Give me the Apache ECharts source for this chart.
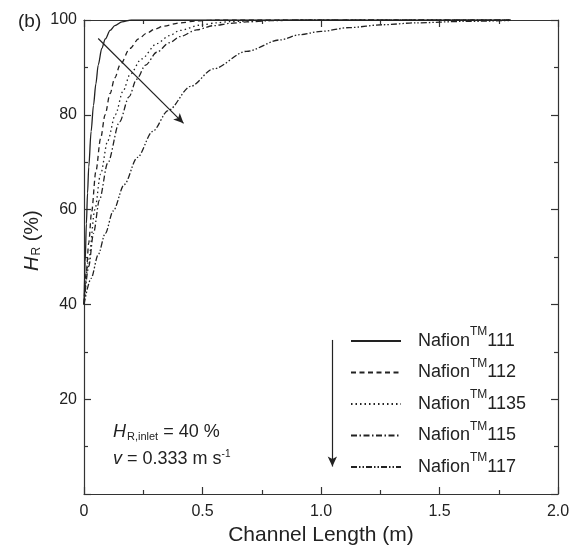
<!DOCTYPE html>
<html><head><meta charset="utf-8">
<script src="https://cdn.jsdelivr.net/npm/echarts@6/dist/echarts.min.js"></script>
<style>html,body{margin:0;padding:0;background:#fff}#c{width:575px;height:551px}</style>
</head><body><div id="c"></div>
<script>
// ---- data: [channel length (m), H_R (%)] ----
const seriesNames = ['111', '112', '1135', '115', '117'];
const nafion111 = [[0,40],[0.005,49],[0.01,57],[0.015,63.5],[0.02,69],[0.03,76.5],[0.04,82],[0.05,86.5],[0.06,90.5],[0.075,94],[0.09,96],[0.11,97.8],[0.13,98.8],[0.16,99.6],[0.2,100],[1.8,100]];
const nafion112 = [[0,40],[0.01,47],[0.02,53],[0.032,59.5],[0.05,68],[0.07,75],[0.089,80],[0.11,84.5],[0.13,87.8],[0.152,90.5],[0.194,94],[0.23,96],[0.264,97.2],[0.3,98.1],[0.335,98.7],[0.405,99.4],[0.475,99.8],[0.55,100],[1.8,100]];
const nafion1135 = [[0,40],[0.02,49.5],[0.046,60],[0.07,67.5],[0.1,74.5],[0.132,80],[0.165,85],[0.194,88.5],[0.243,91.8],[0.307,95],[0.36,96.7],[0.405,97.8],[0.489,98.9],[0.56,99.4],[0.616,99.65],[0.75,99.9],[0.9,100],[1.8,100]];
const nafion115 = [[0,40],[0.02,48],[0.04,55],[0.065,62],[0.1,69.8],[0.15,78.5],[0.19,83.8],[0.222,87.5],[0.26,90.5],[0.307,93.2],[0.36,95.2],[0.405,96.5],[0.475,97.9],[0.546,98.8],[0.62,99.3],[0.686,99.6],[0.787,99.85],[0.9,100],[1.8,100]];
const nafion117 = [[0,40],[0.03,45.5],[0.06,50.5],[0.09,55],[0.123,59.7],[0.17,65.3],[0.225,71],[0.29,76.5],[0.355,80.9],[0.45,86],[0.546,89.7],[0.686,93.4],[0.827,95.8],[0.91,96.9],[1.0,97.6],[1.12,98.4],[1.26,99.0],[1.4,99.4],[1.6,99.7],[1.8,99.9]];
const xTicks = [0, 0.5, 1.0, 1.5, 2.0];
const yTicks = [20, 40, 60, 80, 100];
// annotation arrows (data coordinates)
const trendArrow = [[0.06, 96.1], [0.42, 78.2]];
const legendArrow = [[1.048, 32.5], [1.048, 5.8]];

const allData = [nafion111, nafion112, nafion1135, nafion115, nafion117];
const dashes = ['solid', [5, 3.5], [1.5, 3], [6, 2.5, 1.5, 2.5], [6, 2, 1.5, 2, 1.5, 2]];
const ink = '#222';
const FONT = 'Liberation Sans, Arial, sans-serif';

const chart = echarts.init(document.getElementById('c'), null, {renderer: 'canvas'});

const series = allData.map((d, i) => ({
  name: seriesNames[i],
  type: 'line',
  data: d,
  xAxisIndex: 0, yAxisIndex: 0,
  symbol: 'none',
  smooth: 0.3,
  smoothMonotone: 'x',
  lineStyle: {color: ink, width: 1.3, type: dashes[i]},
  itemStyle: {color: ink},
  z: 3
}));
series[0].markLine = {
  silent: true,
  animation: false,
  symbol: ['none', 'arrow'],
  symbolSize: [7, 10],
  label: {show: false},
  lineStyle: {color: ink, width: 1.2, type: 'solid'},
  data: [
    [{coord: trendArrow[0]}, {coord: trendArrow[1]}],
    [{coord: legendArrow[0]}, {coord: legendArrow[1]}]
  ]
};

const axisCommon = {
  type: 'value',
  axisLine: {show: true, onZero: false, lineStyle: {color: '#333', width: 1.2}},
  axisTick: {show: true, inside: true, length: 7, lineStyle: {color: '#333', width: 1.2}},
  minorTick: {show: true, splitNumber: 2, length: 4, lineStyle: {color: '#333', width: 1.2}},
  splitLine: {show: false},
};

chart.setOption({
  animation: false,
  backgroundColor: '#fff',
  grid: {left: 84, top: 20, width: 474, height: 474},
  xAxis: [
    Object.assign({}, axisCommon, {
      position: 'bottom', min: 0, max: 2, interval: 0.5,
      axisLabel: {color: ink, fontSize: 16, fontFamily: FONT, margin: 10,
        formatter: v => (xTicks.indexOf(v) >= 0 ? (v === 0 ? '0' : v.toFixed(1)) : '')},
      name: 'Channel Length (m)', nameLocation: 'middle', nameGap: 30,
      nameTextStyle: {color: ink, fontSize: 21, fontFamily: FONT}
    }),
    Object.assign({}, axisCommon, {
      position: 'top', min: 0, max: 2, interval: 0.5,
      axisLabel: {show: false}
    })
  ],
  yAxis: [
    Object.assign({}, axisCommon, {
      position: 'left', min: 0, max: 100, interval: 20,
      axisLabel: {color: ink, fontSize: 16, fontFamily: FONT, margin: 7,
        formatter: v => (yTicks.indexOf(v) >= 0 ? String(v) : '')}
    }),
    Object.assign({}, axisCommon, {
      position: 'right', min: 0, max: 100, interval: 20,
      axisLabel: {show: false}
    })
  ],
  legend: {
    orient: 'vertical',
    left: 345, top: 321,
    itemWidth: 50, itemHeight: 12,
    itemGap: 7.5,
    selectedMode: false,
    itemStyle: {opacity: 0},
    data: seriesNames,
    formatter: n => '{f|Nafion}{s|TM}{a|' + n + '}',
    textStyle: {
      color: ink, fontFamily: FONT,
      rich: {
        f: {fontSize: 18, fontFamily: FONT, color: ink, lineHeight: 30, padding: [0, 0, 0, 12]},
        a: {fontSize: 18, fontFamily: FONT, color: ink, lineHeight: 30},
        s: {fontSize: 12, fontFamily: FONT, color: ink, verticalAlign: 'top', lineHeight: 13}
      }
    }
  },
  graphic: [
    {type: 'text', x: 18, y: 22, style: {text: '(b)', fontSize: 19, fontFamily: FONT, fill: ink, verticalAlign: 'middle'}},
    {type: 'text', x: 22, y: 271, rotation: Math.PI / 2,
      style: {text: '{i|H}{r|R}{n| (%)}', fill: ink, fontFamily: FONT,
        rich: {
          i: {fontSize: 20, fontStyle: 'italic', fontFamily: FONT, fill: ink},
          r: {fontSize: 12, fontFamily: FONT, fill: ink, padding: [9, 0, 0, 1]},
          n: {fontSize: 20, fontFamily: FONT, fill: ink}
        }}},
    {type: 'text', x: 113, y: 432,
      style: {text: '{i|H}{r|R,inlet}{n| = 40 %}', fill: ink, fontFamily: FONT, verticalAlign: 'middle',
        rich: {
          i: {fontSize: 18, fontStyle: 'italic', fontFamily: FONT, fill: ink},
          r: {fontSize: 11, fontFamily: FONT, fill: ink, padding: [10, 0, 0, 1]},
          n: {fontSize: 18, fontFamily: FONT, fill: ink}
        }}},
    {type: 'text', x: 113, y: 459,
      style: {text: '{i|v}{n| = 0.333 m s}{s|-1}', fill: ink, fontFamily: FONT, verticalAlign: 'middle',
        rich: {
          i: {fontSize: 18, fontStyle: 'italic', fontFamily: FONT, fill: ink},
          n: {fontSize: 18, fontFamily: FONT, fill: ink},
          s: {fontSize: 10, fontFamily: FONT, fill: ink, padding: [0, 0, 10, 0]}
        }}}
  ],
  series: series
});
</script></body></html>
